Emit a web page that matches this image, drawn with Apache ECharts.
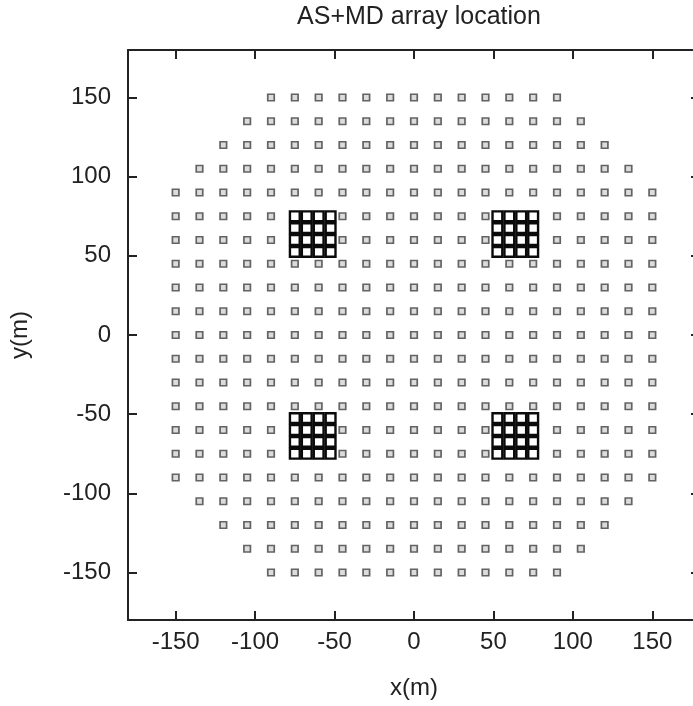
<!DOCTYPE html>
<html>
<head>
<meta charset="utf-8">
<script src="https://cdn.jsdelivr.net/npm/echarts@6/dist/echarts.min.js"></script>
<style>
  html, body { margin: 0; padding: 0; background: #fff; overflow: hidden; }
  #main { width: 700px; height: 706px; }
</style>
</head>
<body>
<div id="main"></div>
<script>
// AS array: rows of detectors on a 15 m grid, row y and half-width of each row
var rowY = [150, 135, 120, 105, 90, 75, 60, 45, 30, 15, 0, -15, -30, -45, -60, -75, -90, -105, -120, -135, -150];
var rowXMax = [90, 105, 120, 135, 150, 150, 150, 150, 150, 150, 150, 150, 150, 150, 150, 150, 150, 135, 120, 105, 90];
var asStep = 15;

// MD array: four 4x4 pools
var mdX = [-75, -67.5, -60, -52.5, 52.5, 60, 67.5, 75];
var mdY = [75, 67.5, 60, 52.5, -52.5, -60, -67.5, -75];

var tickValues = [-150, -100, -50, 0, 50, 100, 150];

var asData = [];
for (var i = 0; i < rowY.length; i++) {
    for (var x = -rowXMax[i]; x <= rowXMax[i]; x += asStep) {
        asData.push([x, rowY[i]]);
    }
}
var mdData = [];
for (var a = 0; a < mdX.length; a++) {
    for (var b = 0; b < mdY.length; b++) {
        mdData.push([mdX[a], mdY[b]]);
    }
}

var font = 'Liberation Sans, Arial, sans-serif';
var lineStyle = { color: '#222', width: 2 };

function makeAxis(pos, withLabels, name) {
    return {
        type: 'value',
        position: pos,
        min: -180,
        max: 180,
        name: name || '',
        nameLocation: 'middle',
        nameGap: (pos === 'bottom') ? 56 : 96,
        nameTextStyle: { fontFamily: font, fontSize: 24, color: '#222' },
        axisLine: { show: true, onZero: false, lineStyle: lineStyle },
        axisTick: { show: true, inside: true, length: 9, customValues: tickValues, lineStyle: { color: '#222', width: 2 } },
        axisLabel: {
            show: withLabels,
            customValues: tickValues,
            margin: (pos === 'bottom') ? 10 : 17,
            fontFamily: font,
            fontSize: 24,
            color: '#222'
        },
        splitLine: { show: false }
    };
}

var chart = echarts.init(document.getElementById('main'));
chart.setOption({
    animation: false,
    title: {
        text: 'AS+MD array location',
        left: 414,
        textAlign: 'center',
        top: 0,
        textStyle: { fontFamily: font, fontSize: 25, fontWeight: 'normal', color: '#222' }
    },
    grid: { left: 127, top: 50, right: 0, bottom: 86 },
    xAxis: [makeAxis('bottom', true, 'x(m)'), makeAxis('top', false)],
    yAxis: [makeAxis('left', true, 'y(m)'), makeAxis('right', false)],
    series: [
        {
            name: 'AS',
            type: 'scatter',
            data: asData,
            symbol: 'rect',
            symbolSize: 6.5,
            itemStyle: { color: '#dcdcdc', borderColor: '#636363', borderWidth: 1.7, opacity: 1 }
        },
        {
            name: 'MD',
            type: 'scatter',
            data: mdData,
            symbol: 'rect',
            symbolSize: 9.8,
            z: 3,
            itemStyle: { color: '#fff', borderColor: '#0a0a0a', borderWidth: 2.4, opacity: 1 }
        }
    ]
});
</script>
</body>
</html>
